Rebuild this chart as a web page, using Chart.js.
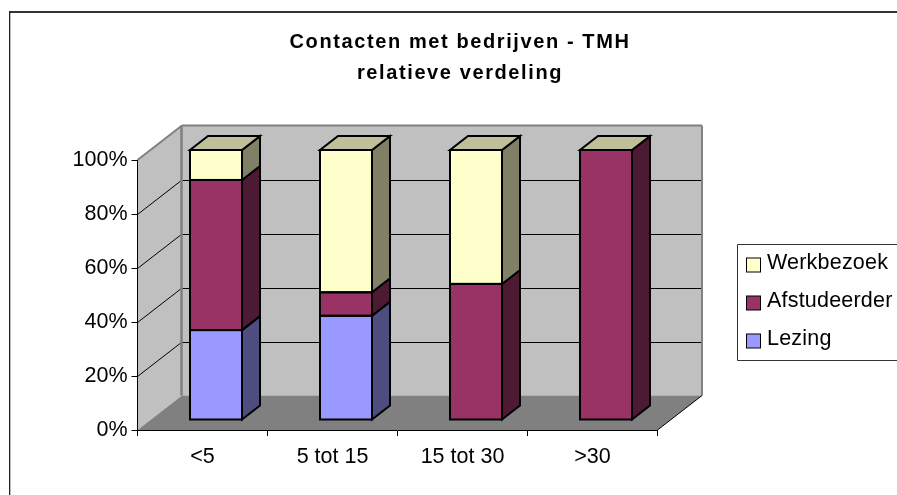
<!DOCTYPE html>
<html>
<head>
<meta charset="utf-8">
<style>html,body{margin:0;padding:0;background:#fff;overflow:hidden}canvas{display:block}</style>
<script src="https://cdn.jsdelivr.net/npm/chart.js@4"></script>
</head>
<body>
<canvas id="c" width="897" height="495"></canvas>
<script>
const titleLines = ['Contacten met bedrijven - TMH', 'relatieve verdeling'];
const categories = ['<5', '5 tot 15', '15 tot 30', '>30'];
const lezing = [33.3, 38.6, 0, 0];
const afstudeerder = [55.6, 8.7, 50.4, 100];
const werkbezoek = [11.1, 52.7, 49.6, 0];
const yTicks = [0, 20, 40, 60, 80, 100];

const FONT = '"Liberation Sans", Arial, sans-serif';
const WALL = '#C0C0C0', FLOOR = '#808080', EDGE = '#808080';
const DEPTH = {dx: 44.5, dy: -34.5};
const BAR_SHIFT = {dx: 13.5, dy: -10};
const BAR_DEPTH = {dx: 18, dy: -14};

function line(ctx, x1, y1, x2, y2, color, w) {
  ctx.strokeStyle = color; ctx.lineWidth = w;
  ctx.beginPath(); ctx.moveTo(x1, y1); ctx.lineTo(x2, y2); ctx.stroke();
}
function poly(ctx, pts, fill) {
  ctx.beginPath();
  pts.forEach((p, i) => i ? ctx.lineTo(p[0], p[1]) : ctx.moveTo(p[0], p[1]));
  ctx.closePath();
  ctx.fillStyle = fill; ctx.fill();
}
function shade(hex, f) {
  const n = parseInt(hex.slice(1), 16);
  const c = [n >> 16, (n >> 8) & 255, n & 255].map(v => Math.round(v * f));
  return 'rgb(' + c.join(',') + ')';
}

const scene = {
  id: 'scene',
  afterLayout(chart) {
    chart.titleBlock.left = 12; chart.titleBlock.right = 908;
    const t = chart.titleBlock, d = t.draw;
    if (!t._wrapped) {
      t._wrapped = true;
      t.draw = function () {
        chart.ctx.save();
        chart.ctx.letterSpacing = '1.6px';
        d.call(t);
        chart.ctx.restore();
      };
    }
  },
  beforeDraw(chart) {
    const ctx = chart.ctx, a = chart.chartArea, sy = chart.scales.y;
    const L = a.left, R = a.right, T = a.top, B = a.bottom, dx = DEPTH.dx, dy = DEPTH.dy;
    ctx.save();
    ctx.fillStyle = '#fff'; ctx.fillRect(0, 0, chart.width, chart.height);
    // outer frame
    ctx.fillStyle = '#333'; ctx.fillRect(9, 11, 888, 2);
    ctx.fillStyle = '#222'; ctx.fillRect(9, 11, 1.3, 484);
    // walls and floor
    poly(ctx, [[L + dx, T + dy], [R + dx, T + dy], [R + dx, B + dy], [L + dx, B + dy]], WALL);
    poly(ctx, [[L, T], [L + dx, T + dy], [L + dx, B + dy], [L, B]], WALL);
    poly(ctx, [[L, B], [R, B], [R + dx, B + dy], [L + dx, B + dy]], FLOOR);
    // gridlines on the side and back wall
    yTicks.forEach(v => {
      if (v === 0 || v === 100) return;
      const y = Math.round(sy.getPixelForValue(v)) + 0.5;
      line(ctx, L, y, L + dx, y + dy, '#000', 1);
      line(ctx, L + dx, Math.round(y + dy) + 0.5, R + dx, Math.round(y + dy) + 0.5, '#000', 1);
    });
    // wall edges
    line(ctx, L + dx - 0.5, T + dy, L + dx - 0.5, B + dy, EDGE, 2.5);
    line(ctx, L, T, L + dx, T + dy, EDGE, 2);
    line(ctx, L + dx, T + dy, R + dx, T + dy, EDGE, 2);
    line(ctx, R + dx, T + dy, R + dx, B + dy, EDGE, 2);
    line(ctx, R, B, R + dx, B + dy, '#000', 1);
    ctx.restore();
  },
  beforeDatasetsDraw(chart) {
    const ctx = chart.ctx, n = chart.data.datasets.length;
    ctx.save();
    ctx.translate(BAR_SHIFT.dx, BAR_SHIFT.dy);
    const d = BAR_DEPTH;
    ctx.lineJoin = 'miter';
    chart.data.datasets.forEach((ds, di) => {
      chart.getDatasetMeta(di).data.forEach((bar, i) => {
        const hw = bar.width / 2, r = bar.x + hw, l = bar.x - hw;
        const top = bar.y, base = bar.base;
        const outline = () => { ctx.strokeStyle = '#000'; ctx.lineWidth = 2; ctx.stroke(); };
        if (ds.data[i] > 0) {
          poly(ctx, [[r, top], [r + d.dx, top + d.dy], [r + d.dx, base + d.dy], [r, base]], shade(ds.backgroundColor, 0.5));
          outline();
        }
        if (di === n - 1) {
          poly(ctx, [[l, top], [l + d.dx, top + d.dy], [r + d.dx, top + d.dy], [r, top]], shade(ds.backgroundColor, 0.75));
          outline();
        }
      });
    });
    ctx.restore();
    ctx.save();
    ctx.translate(BAR_SHIFT.dx, BAR_SHIFT.dy);
  },
  afterDatasetsDraw(chart) {
    const ctx = chart.ctx;
    chart.data.datasets.forEach((ds, di) => {
      chart.getDatasetMeta(di).data.forEach((bar, i) => {
        if (!(ds.data[i] > 0)) return;
        ctx.strokeStyle = '#000'; ctx.lineWidth = 2;
        ctx.strokeRect(bar.x - bar.width / 2, bar.y, bar.width, bar.base - bar.y);
      });
    });
    ctx.restore();
    // legend
    const items = chart.data.datasets.slice().reverse();
    const rowY = [265, 303, 341];
    ctx.save();
    ctx.strokeStyle = '#333'; ctx.lineWidth = 1;
    ctx.beginPath(); ctx.moveTo(897, 244.5); ctx.lineTo(737.5, 244.5); ctx.lineTo(737.5, 360.5); ctx.lineTo(897, 360.5); ctx.stroke();
    items.forEach((ds, i) => {
      ctx.fillStyle = ds.backgroundColor;
      ctx.fillRect(746.5, rowY[i] - 7, 14, 14);
      ctx.strokeStyle = '#000'; ctx.lineWidth = 1;
      ctx.strokeRect(746.5, rowY[i] - 7, 14, 14);
      ctx.fillStyle = '#000';
      ctx.font = '21.5px ' + FONT;
      ctx.letterSpacing = '0.2px';
      ctx.textBaseline = 'middle'; ctx.textAlign = 'left';
      ctx.fillText(ds.label, 767, rowY[i] - 2);
    });
    ctx.restore();
  }
};

new Chart(document.getElementById('c'), {
  type: 'bar',
  plugins: [scene],
  data: {
    labels: categories,
    datasets: [
      {label: 'Lezing', data: lezing, backgroundColor: '#9999FF'},
      {label: 'Afstudeerder', data: afstudeerder, backgroundColor: '#993366'},
      {label: 'Werkbezoek', data: werkbezoek, backgroundColor: '#FFFFCC'}
    ]
  },
  options: {
    responsive: false,
    animation: false,
    devicePixelRatio: 1,
    layout: {padding: {left: 0, top: 0, right: 239.5, bottom: 0}},
    datasets: {bar: {barPercentage: 0.4, categoryPercentage: 1, borderWidth: 0, clip: false}},
    plugins: {
      legend: {display: false},
      tooltip: {enabled: false},
      title: {
        display: true,
        text: titleLines,
        color: '#000',
        font: {family: FONT, size: 20, weight: 'bold', lineHeight: '31px'},
        padding: {top: 26.5, bottom: 71.5}
      }
    },
    scales: {
      x: {
        stacked: true,
        afterFit(s) { s.height = 65; },
        grid: {drawOnChartArea: false, drawTicks: true, tickLength: 6, tickColor: '#000', color: '#000'},
        border: {display: true, color: '#000', width: 1},
        ticks: {color: '#000', font: {family: FONT, size: 21.5}, padding: 8, maxRotation: 0, autoSkip: false}
      },
      y: {
        stacked: true,
        min: 0,
        max: 100,
        afterFit(s) { s.width = 137.5; },
        afterBuildTicks(s) { s.ticks = yTicks.map(v => ({value: v})); },
        grid: {drawOnChartArea: false, drawTicks: true, tickLength: 6, tickColor: '#000', color: '#000'},
        border: {display: true, color: '#000', width: 1},
        ticks: {color: '#000', font: {family: FONT, size: 21.5}, padding: 4, callback: v => v + '%'}
      }
    }
  }
});
</script>
</body>
</html>
